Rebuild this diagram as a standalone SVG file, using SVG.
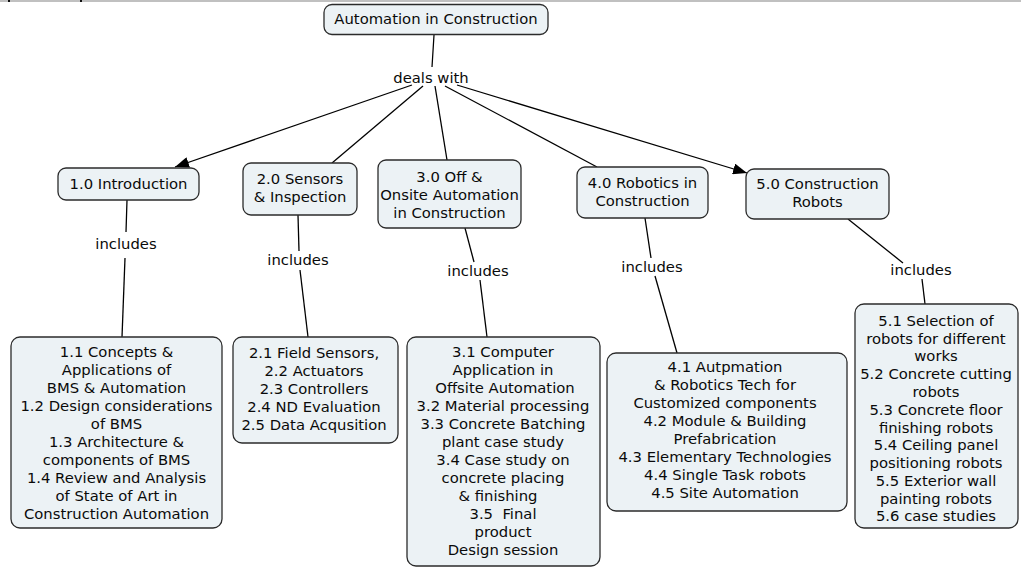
<svg xmlns="http://www.w3.org/2000/svg" width="1021" height="567" viewBox="0 0 1021 567">
<defs>
<marker id="arr" viewBox="0 0 14 11" refX="14" refY="5.5" markerWidth="14" markerHeight="11" markerUnits="userSpaceOnUse" orient="auto">
<path d="M0,0 L14,5.5 L0,11 Z" fill="#000"/>
</marker>
<style>
.n{fill:#ECF2F5;stroke:#2b2b2b;stroke-width:1.3}
.t{font-family:"DejaVu Sans","Verdana",sans-serif;font-size:14.8px;fill:#0a0a0a;text-anchor:middle;white-space:pre}
.c{stroke:#000;stroke-width:1.3;fill:none}
</style>
</defs>
<rect x="0" y="0" width="1021" height="2" fill="#c0c0c0"/>
<rect x="8" y="0" width="2" height="2" fill="#111"/>
<rect x="80" y="0" width="2" height="2" fill="#111"/>
<g id="connectors">
<line class="c" x1="434" y1="35" x2="432" y2="67"/>
<line class="c" x1="412" y1="85" x2="175" y2="167" marker-end="url(#arr)"/>
<line class="c" x1="423" y1="86" x2="332" y2="163"/>
<line class="c" x1="435" y1="86" x2="447" y2="160"/>
<line class="c" x1="445" y1="86" x2="597" y2="167"/>
<line class="c" x1="457" y1="85" x2="747" y2="173" marker-end="url(#arr)"/>
<line class="c" x1="127" y1="200" x2="126" y2="232"/>
<line class="c" x1="125" y1="258" x2="122" y2="337"/>
<line class="c" x1="298" y1="215" x2="299" y2="251"/>
<line class="c" x1="300" y1="270" x2="308" y2="337"/>
<line class="c" x1="465" y1="228" x2="474" y2="262"/>
<line class="c" x1="480" y1="280" x2="487" y2="337"/>
<line class="c" x1="645" y1="218" x2="651" y2="258"/>
<line class="c" x1="655" y1="276" x2="677" y2="353"/>
<line class="c" x1="848" y1="219" x2="903" y2="263"/>
<line class="c" x1="922" y1="279" x2="925" y2="304"/>
</g>
<g id="labels">
<text class="t" x="431" y="83">deals with</text>
<text class="t" x="126" y="249">includes</text>
<text class="t" x="298" y="265">includes</text>
<text class="t" x="478" y="276">includes</text>
<text class="t" x="652" y="272">includes</text>
<text class="t" x="921" y="275">includes</text>
</g>
<g id="root">
<rect class="n" x="324" y="4.5" width="224" height="30" rx="8"/>
<text class="t" x="436" y="24">Automation in Construction</text>
</g>
<g id="n1">
<rect class="n" x="58" y="168" width="141" height="32" rx="8"/>
<text class="t" x="128.5" y="189">1.0 Introduction</text>
</g>
<g id="n2">
<rect class="n" x="243" y="163" width="114" height="52" rx="8"/>
<text class="t" x="300" y="184">2.0 Sensors</text>
<text class="t" x="300" y="202">&amp; Inspection</text>
</g>
<g id="n3">
<rect class="n" x="378" y="160" width="143" height="68" rx="8"/>
<text class="t" x="449.5" y="182">3.0 Off &amp;</text>
<text class="t" x="449.5" y="200">Onsite Automation</text>
<text class="t" x="449.5" y="218">in Construction</text>
</g>
<g id="n4">
<rect class="n" x="577" y="167" width="131" height="51" rx="8"/>
<text class="t" x="642.5" y="188">4.0 Robotics in</text>
<text class="t" x="642.5" y="206">Construction</text>
</g>
<g id="n5">
<rect class="n" x="746" y="169" width="143" height="50" rx="8"/>
<text class="t" x="817.5" y="189">5.0 Construction</text>
<text class="t" x="817.5" y="207">Robots</text>
</g>
<g id="n1x">
<rect class="n" x="11" y="337" width="211" height="191" rx="9"/>
<text class="t" x="116.5" y="357">1.1 Concepts &amp;</text>
<text class="t" x="116.5" y="375">Applications of</text>
<text class="t" x="116.5" y="393">BMS &amp; Automation</text>
<text class="t" x="116.5" y="411">1.2 Design considerations</text>
<text class="t" x="116.5" y="429">of BMS</text>
<text class="t" x="116.5" y="447">1.3 Architecture &amp;</text>
<text class="t" x="116.5" y="465">components of BMS</text>
<text class="t" x="116.5" y="483">1.4 Review and Analysis</text>
<text class="t" x="116.5" y="501">of State of Art in</text>
<text class="t" x="116.5" y="519">Construction Automation</text>
</g>
<g id="n2x">
<rect class="n" x="233" y="337" width="165" height="106" rx="9"/>
<text class="t" x="314" y="358">2.1 Field Sensors,</text>
<text class="t" x="314" y="376">2.2 Actuators</text>
<text class="t" x="314" y="394">2.3 Controllers</text>
<text class="t" x="314" y="412">2.4 ND Evaluation</text>
<text class="t" x="314" y="430">2.5 Data Acqusition</text>
</g>
<g id="n3x">
<rect class="n" x="407" y="337" width="193" height="229" rx="9"/>
<text class="t" x="503" y="357">3.1 Computer</text>
<text class="t" x="503" y="375">Application in</text>
<text class="t" x="505" y="393">Offsite Automation</text>
<text class="t" x="503" y="411">3.2 Material processing</text>
<text class="t" x="503" y="429">3.3 Concrete Batching</text>
<text class="t" x="503" y="447">plant case study</text>
<text class="t" x="503" y="465">3.4 Case study on</text>
<text class="t" x="503" y="483">concrete placing</text>
<text class="t" x="498" y="501">&amp; finishing</text>
<text class="t" x="503" y="519">3.5  Final</text>
<text class="t" x="503" y="537">product</text>
<text class="t" x="503" y="555">Design session</text>
</g>
<g id="n4x">
<rect class="n" x="607" y="353" width="240" height="158" rx="9"/>
<text class="t" x="725" y="372">4.1 Autpmation</text>
<text class="t" x="725" y="390">&amp; Robotics Tech for</text>
<text class="t" x="725" y="408">Customized components</text>
<text class="t" x="725" y="426">4.2 Module &amp; Building</text>
<text class="t" x="725" y="444">Prefabrication</text>
<text class="t" x="725" y="462">4.3 Elementary Technologies</text>
<text class="t" x="725" y="480">4.4 Single Task robots</text>
<text class="t" x="725" y="498">4.5 Site Automation</text>
</g>
<g id="n5x">
<rect class="n" x="855" y="304" width="163" height="224" rx="9"/>
<text class="t" x="936" y="326">5.1 Selection of</text>
<text class="t" x="936" y="344">robots for different</text>
<text class="t" x="936" y="361">works</text>
<text class="t" x="936" y="379">5.2 Concrete cutting</text>
<text class="t" x="936" y="397">robots</text>
<text class="t" x="936" y="415">5.3 Concrete floor</text>
<text class="t" x="936" y="433">finishing robots</text>
<text class="t" x="936" y="450">5.4 Ceiling panel</text>
<text class="t" x="936" y="468">positioning robots</text>
<text class="t" x="936" y="486">5.5 Exterior wall</text>
<text class="t" x="936" y="504">painting robots</text>
<text class="t" x="936" y="521">5.6 case studies</text>
</g>
</svg>
